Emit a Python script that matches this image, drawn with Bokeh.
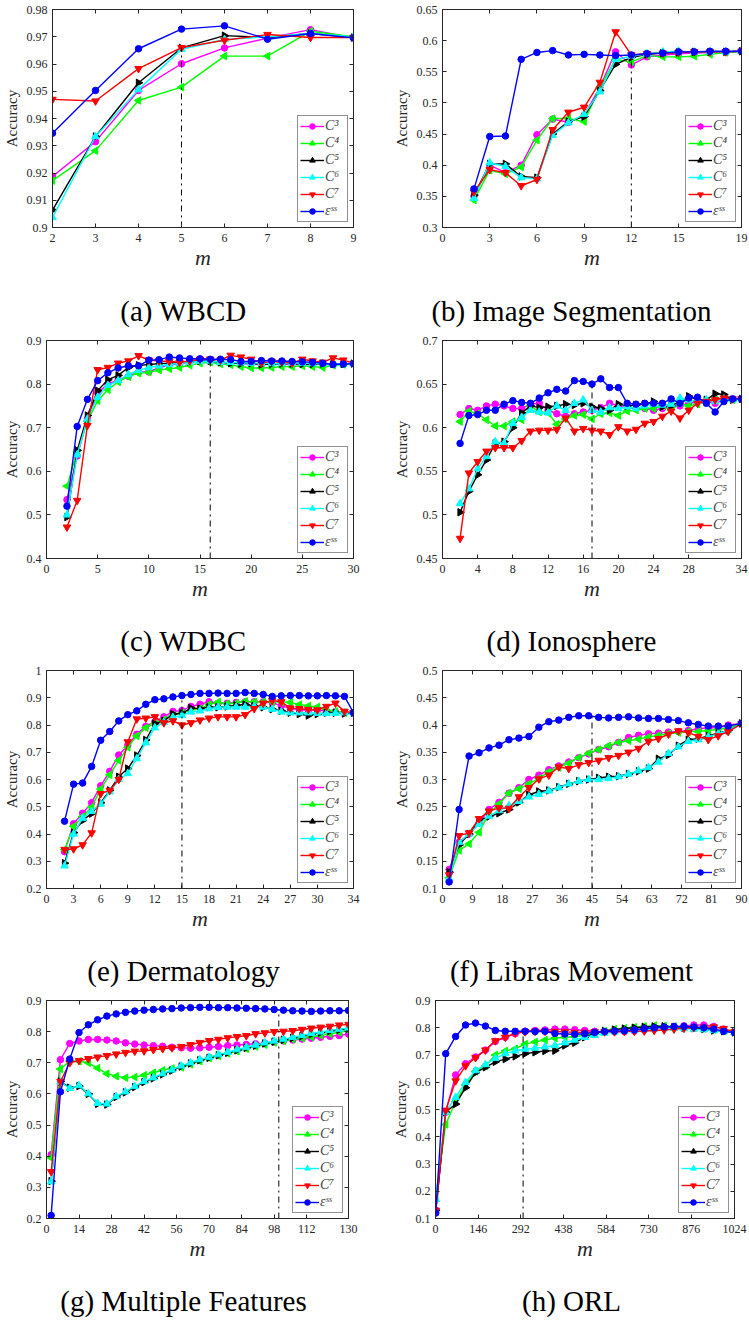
import math
from bokeh.plotting import figure
from bokeh.layouts import column, row
from bokeh.models import Range1d, FixedTicker, NumeralTickFormatter, LinearAxis
from bokeh.core.properties import value
from bokeh.embed import file_html
from bokeh.resources import INLINE

# ---------------- data ----------------
series_names = ["C³", "C⁴", "C⁵", "C⁶", "C⁷", "εˢˢ"]
series_colors = ["#ff00ff", "#00ff00", "#000000", "#00ffff", "#ff0000", "#0000ff"]

# (a) WBCD
a_m = [2, 3, 4, 5, 6, 7, 8, 9]
a_c3 = [0.9187, 0.9315, 0.9503, 0.9601, 0.9659, 0.9695, 0.9726, 0.9696]
a_c4 = [0.9172, 0.9282, 0.9466, 0.9515, 0.9629, 0.9629, 0.9720, 0.9700]
a_c5 = [0.9064, 0.9334, 0.9531, 0.9659, 0.9704, 0.9697, 0.9712, 0.9697]
a_c6 = [0.9037, 0.9334, 0.9506, 0.9654, 0.9690, 0.9700, 0.9712, 0.9700]
a_c7 = [0.9470, 0.9464, 0.9583, 0.9660, 0.9687, 0.9708, 0.9697, 0.9697]
a_ss = [0.9346, 0.9503, 0.9656, 0.9728, 0.9740, 0.9691, 0.9712, 0.9696]
a_xticks = [2, 3, 4, 5, 6, 7, 8, 9]
a_yticks = [0.9, 0.91, 0.92, 0.93, 0.94, 0.95, 0.96, 0.97, 0.98]
a_vline = [5, 0.966]

# (b) Image Segmentation
b_m = list(range(2, 20))
b_c3 = [0.350, 0.400, 0.388, 0.400, 0.449, 0.474, 0.469, 0.480, 0.525, 0.582, 0.561, 0.574, 0.577, 0.579, 0.580, 0.581, 0.582, 0.583]
b_c4 = [0.344, 0.392, 0.386, 0.397, 0.440, 0.475, 0.475, 0.470, 0.525, 0.570, 0.566, 0.576, 0.574, 0.574, 0.575, 0.578, 0.581, 0.583]
b_c5 = [0.352, 0.402, 0.402, 0.382, 0.380, 0.450, 0.470, 0.478, 0.520, 0.562, 0.573, 0.578, 0.580, 0.581, 0.582, 0.582, 0.582, 0.583]
b_c6 = [0.347, 0.404, 0.398, 0.380, 0.378, 0.448, 0.468, 0.482, 0.518, 0.570, 0.575, 0.579, 0.582, 0.583, 0.582, 0.582, 0.582, 0.583]
b_c7 = [0.357, 0.393, 0.388, 0.367, 0.377, 0.457, 0.485, 0.493, 0.533, 0.614, 0.577, 0.579, 0.580, 0.581, 0.582, 0.582, 0.582, 0.583]
b_ss = [0.362, 0.446, 0.447, 0.570, 0.581, 0.584, 0.577, 0.578, 0.577, 0.576, 0.577, 0.579, 0.580, 0.582, 0.582, 0.583, 0.583, 0.583]
b_xticks = [0, 3, 6, 9, 12, 15, 19]
b_yticks = [0.3, 0.35, 0.4, 0.45, 0.5, 0.55, 0.6, 0.65]
b_vline = [12, 0.577]

# (c) WDBC
c_m = list(range(2, 31))
c_c3 = [0.535, 0.635, 0.720, 0.780, 0.800, 0.810, 0.818, 0.828, 0.828, 0.838, 0.843, 0.847, 0.850, 0.853, 0.853, 0.850, 0.848, 0.847, 0.846, 0.845, 0.846, 0.846, 0.845, 0.845, 0.846, 0.846, 0.846, 0.846, 0.847]
c_c4 = [0.566, 0.645, 0.715, 0.762, 0.787, 0.805, 0.817, 0.825, 0.827, 0.832, 0.835, 0.838, 0.843, 0.848, 0.850, 0.846, 0.844, 0.840, 0.837, 0.837, 0.838, 0.840, 0.840, 0.842, 0.840, 0.838, 0.843, 0.845, 0.847]
c_c5 = [0.495, 0.648, 0.728, 0.785, 0.810, 0.820, 0.838, 0.843, 0.845, 0.847, 0.848, 0.850, 0.852, 0.853, 0.853, 0.850, 0.848, 0.847, 0.848, 0.845, 0.846, 0.847, 0.847, 0.846, 0.846, 0.847, 0.846, 0.846, 0.847]
c_c6 = [0.500, 0.638, 0.720, 0.770, 0.797, 0.808, 0.822, 0.832, 0.838, 0.842, 0.845, 0.848, 0.850, 0.852, 0.853, 0.850, 0.850, 0.849, 0.848, 0.848, 0.847, 0.847, 0.848, 0.848, 0.847, 0.847, 0.846, 0.846, 0.847]
c_c7 = [0.472, 0.533, 0.705, 0.833, 0.838, 0.848, 0.853, 0.865, 0.855, 0.853, 0.852, 0.850, 0.853, 0.857, 0.857, 0.855, 0.866, 0.862, 0.857, 0.848, 0.852, 0.850, 0.848, 0.857, 0.853, 0.850, 0.860, 0.855, 0.848]
c_ss = [0.520, 0.703, 0.765, 0.808, 0.826, 0.837, 0.842, 0.842, 0.855, 0.856, 0.862, 0.860, 0.858, 0.858, 0.857, 0.857, 0.856, 0.852, 0.852, 0.854, 0.853, 0.853, 0.852, 0.851, 0.850, 0.848, 0.845, 0.846, 0.847]
c_xticks = [0, 5, 10, 15, 20, 25, 30]
c_yticks = [0.4, 0.5, 0.6, 0.7, 0.8, 0.9]
c_vline = [16, 0.857]

# (d) Ionosphere
d_m = list(range(2, 35))
d_c3 = [0.615, 0.622, 0.620, 0.625, 0.627, 0.625, 0.622, 0.622, 0.627, 0.628, 0.620, 0.616, 0.613, 0.616, 0.618, 0.620, 0.623, 0.628, 0.625, 0.623, 0.622, 0.622, 0.620, 0.622, 0.625, 0.625, 0.628, 0.630, 0.630, 0.628, 0.632, 0.633, 0.633]
d_c4 = [0.607, 0.619, 0.616, 0.609, 0.602, 0.602, 0.607, 0.609, 0.625, 0.618, 0.617, 0.604, 0.610, 0.614, 0.615, 0.610, 0.616, 0.617, 0.614, 0.619, 0.620, 0.622, 0.622, 0.625, 0.620, 0.628, 0.625, 0.627, 0.630, 0.632, 0.633, 0.632, 0.633]
d_c5 = [0.503, 0.527, 0.546, 0.563, 0.582, 0.584, 0.600, 0.617, 0.625, 0.623, 0.624, 0.625, 0.627, 0.626, 0.628, 0.624, 0.622, 0.620, 0.627, 0.625, 0.626, 0.627, 0.630, 0.624, 0.625, 0.630, 0.636, 0.632, 0.632, 0.639, 0.638, 0.632, 0.633]
d_c6 = [0.513, 0.530, 0.553, 0.567, 0.584, 0.582, 0.605, 0.612, 0.620, 0.618, 0.617, 0.625, 0.620, 0.628, 0.632, 0.620, 0.618, 0.623, 0.622, 0.624, 0.622, 0.625, 0.627, 0.626, 0.627, 0.634, 0.632, 0.630, 0.632, 0.630, 0.633, 0.632, 0.633]
d_c7 = [0.473, 0.548, 0.561, 0.573, 0.577, 0.577, 0.577, 0.585, 0.596, 0.597, 0.597, 0.598, 0.611, 0.596, 0.599, 0.597, 0.596, 0.592, 0.601, 0.596, 0.598, 0.605, 0.607, 0.613, 0.619, 0.611, 0.620, 0.628, 0.630, 0.632, 0.634, 0.633, 0.633]
d_ss = [0.582, 0.614, 0.615, 0.620, 0.620, 0.627, 0.631, 0.629, 0.628, 0.634, 0.640, 0.644, 0.642, 0.654, 0.653, 0.650, 0.656, 0.646, 0.646, 0.628, 0.627, 0.628, 0.628, 0.628, 0.633, 0.628, 0.634, 0.635, 0.628, 0.618, 0.630, 0.633, 0.633]
d_xticks = [0, 4, 8, 12, 16, 20, 24, 28, 34]
d_yticks = [0.45, 0.5, 0.55, 0.6, 0.65, 0.7]
d_vline = [17, 0.650]

# (e) Dermatology
e_m = list(range(2, 35))
e_c3 = [0.335, 0.438, 0.476, 0.515, 0.577, 0.630, 0.690, 0.725, 0.766, 0.795, 0.812, 0.830, 0.850, 0.853, 0.868, 0.876, 0.885, 0.880, 0.880, 0.883, 0.885, 0.885, 0.885, 0.882, 0.870, 0.862, 0.855, 0.855, 0.855, 0.852, 0.848, 0.845, 0.845]
e_c4 = [0.343, 0.428, 0.464, 0.498, 0.565, 0.617, 0.670, 0.718, 0.760, 0.790, 0.805, 0.820, 0.835, 0.845, 0.853, 0.860, 0.875, 0.884, 0.878, 0.880, 0.887, 0.885, 0.885, 0.885, 0.885, 0.883, 0.875, 0.870, 0.866, 0.858, 0.850, 0.845, 0.845]
e_c5 = [0.293, 0.405, 0.450, 0.475, 0.515, 0.560, 0.610, 0.640, 0.688, 0.745, 0.805, 0.815, 0.840, 0.843, 0.862, 0.860, 0.865, 0.865, 0.868, 0.872, 0.875, 0.870, 0.865, 0.858, 0.852, 0.845, 0.840, 0.835, 0.840, 0.845, 0.845, 0.842, 0.845]
e_c6 = [0.283, 0.400, 0.458, 0.483, 0.510, 0.555, 0.600, 0.622, 0.677, 0.735, 0.790, 0.810, 0.828, 0.835, 0.848, 0.852, 0.860, 0.865, 0.866, 0.866, 0.866, 0.868, 0.866, 0.858, 0.848, 0.845, 0.845, 0.845, 0.843, 0.842, 0.843, 0.845, 0.845]
e_c7 = [0.343, 0.345, 0.360, 0.404, 0.548, 0.560, 0.600, 0.738, 0.822, 0.825, 0.830, 0.808, 0.815, 0.800, 0.808, 0.818, 0.825, 0.830, 0.830, 0.830, 0.838, 0.860, 0.880, 0.890, 0.885, 0.862, 0.860, 0.857, 0.855, 0.868, 0.880, 0.850, 0.845]
e_ss = [0.447, 0.583, 0.587, 0.648, 0.744, 0.776, 0.815, 0.838, 0.852, 0.876, 0.893, 0.896, 0.903, 0.908, 0.912, 0.916, 0.916, 0.917, 0.916, 0.916, 0.919, 0.916, 0.912, 0.905, 0.907, 0.908, 0.908, 0.907, 0.907, 0.908, 0.907, 0.905, 0.845]
e_xticks = [0, 3, 6, 9, 12, 15, 18, 21, 24, 27, 30, 34]
e_yticks = [0.2, 0.3, 0.4, 0.5, 0.6, 0.7, 0.8, 0.9, 1.0]
e_vline = [15, 0.908]

# (f) Libras Movement
f_m = [2, 5, 8, 11, 14, 17, 20, 23, 26, 29, 32, 35, 38, 41, 44, 47, 50, 53, 56, 59, 62, 65, 68, 71, 74, 77, 80, 83, 86, 90]
f_c3 = [0.135, 0.185, 0.200, 0.220, 0.245, 0.258, 0.275, 0.285, 0.300, 0.308, 0.318, 0.325, 0.332, 0.340, 0.347, 0.355, 0.360, 0.368, 0.377, 0.381, 0.384, 0.385, 0.387, 0.388, 0.390, 0.393, 0.395, 0.395, 0.400, 0.403]
f_c4 = [0.120, 0.170, 0.182, 0.203, 0.238, 0.255, 0.275, 0.283, 0.292, 0.302, 0.314, 0.322, 0.330, 0.340, 0.348, 0.355, 0.362, 0.368, 0.371, 0.374, 0.378, 0.381, 0.384, 0.386, 0.388, 0.388, 0.390, 0.392, 0.395, 0.403]
f_c5 = [0.130, 0.180, 0.200, 0.225, 0.232, 0.238, 0.245, 0.258, 0.272, 0.278, 0.280, 0.286, 0.292, 0.297, 0.300, 0.303, 0.305, 0.306, 0.310, 0.315, 0.320, 0.338, 0.345, 0.362, 0.373, 0.375, 0.380, 0.385, 0.390, 0.403]
f_c6 = [0.118, 0.185, 0.200, 0.218, 0.233, 0.243, 0.252, 0.260, 0.268, 0.273, 0.279, 0.285, 0.292, 0.297, 0.300, 0.300, 0.302, 0.305, 0.310, 0.316, 0.322, 0.332, 0.348, 0.360, 0.370, 0.373, 0.378, 0.384, 0.390, 0.403]
f_c7 = [0.125, 0.197, 0.202, 0.228, 0.242, 0.248, 0.247, 0.268, 0.285, 0.301, 0.308, 0.323, 0.320, 0.327, 0.331, 0.335, 0.340, 0.344, 0.350, 0.357, 0.370, 0.375, 0.383, 0.389, 0.386, 0.379, 0.373, 0.380, 0.388, 0.402]
f_ss = [0.112, 0.245, 0.343, 0.349, 0.358, 0.363, 0.373, 0.376, 0.379, 0.396, 0.406, 0.409, 0.414, 0.417, 0.417, 0.414, 0.413, 0.414, 0.415, 0.413, 0.412, 0.412, 0.410, 0.408, 0.404, 0.401, 0.398, 0.398, 0.398, 0.403]
f_xticks = [0, 9, 18, 27, 36, 45, 54, 63, 72, 81, 90]
f_yticks = [0.1, 0.15, 0.2, 0.25, 0.3, 0.35, 0.4, 0.45, 0.5]
f_vline = [45, 0.416]

# (g) Multiple Features
g_m = [2, 6, 10, 14, 18, 22, 26, 30, 34, 38, 42, 46, 50, 54, 58, 62, 66, 70, 74, 78, 82, 86, 90, 94, 98, 102, 106, 110, 114, 118, 122, 126, 130]
g_c3 = [0.405, 0.710, 0.762, 0.770, 0.775, 0.775, 0.773, 0.770, 0.764, 0.760, 0.757, 0.755, 0.753, 0.750, 0.748, 0.747, 0.748, 0.750, 0.752, 0.755, 0.757, 0.759, 0.761, 0.763, 0.766, 0.770, 0.773, 0.776, 0.779, 0.782, 0.785, 0.788, 0.792]
g_c4 = [0.395, 0.680, 0.705, 0.705, 0.700, 0.683, 0.665, 0.657, 0.652, 0.654, 0.660, 0.668, 0.676, 0.682, 0.685, 0.695, 0.705, 0.715, 0.722, 0.730, 0.737, 0.745, 0.752, 0.758, 0.765, 0.770, 0.775, 0.779, 0.783, 0.788, 0.793, 0.798, 0.803]
g_c5 = [0.320, 0.640, 0.620, 0.625, 0.600, 0.568, 0.566, 0.590, 0.605, 0.622, 0.638, 0.650, 0.663, 0.675, 0.688, 0.698, 0.708, 0.716, 0.724, 0.732, 0.740, 0.748, 0.755, 0.762, 0.768, 0.774, 0.780, 0.786, 0.792, 0.797, 0.802, 0.806, 0.810]
g_c6 = [0.318, 0.638, 0.618, 0.627, 0.601, 0.570, 0.568, 0.592, 0.607, 0.624, 0.640, 0.652, 0.665, 0.677, 0.690, 0.700, 0.710, 0.718, 0.726, 0.734, 0.742, 0.750, 0.757, 0.764, 0.770, 0.776, 0.782, 0.788, 0.794, 0.799, 0.804, 0.808, 0.812]
g_c7 = [0.350, 0.640, 0.700, 0.707, 0.713, 0.718, 0.723, 0.728, 0.733, 0.737, 0.738, 0.742, 0.745, 0.748, 0.752, 0.758, 0.765, 0.771, 0.775, 0.780, 0.784, 0.787, 0.793, 0.796, 0.800, 0.801, 0.803, 0.807, 0.811, 0.814, 0.817, 0.821, 0.823]
g_ss = [0.210, 0.607, 0.712, 0.797, 0.822, 0.838, 0.850, 0.857, 0.862, 0.866, 0.869, 0.871, 0.873, 0.874, 0.876, 0.877, 0.878, 0.878, 0.877, 0.877, 0.876, 0.875, 0.874, 0.873, 0.871, 0.869, 0.867, 0.866, 0.865, 0.866, 0.867, 0.867, 0.868]
g_xticks = [0, 14, 28, 42, 56, 70, 84, 98, 112, 130]
g_yticks = [0.2, 0.3, 0.4, 0.5, 0.6, 0.7, 0.8, 0.9]
g_vline = [100, 0.870]

# (h) ORL
h_m = [1, 35, 69, 103, 137, 171, 205, 239, 273, 307, 341, 375, 409, 443, 477, 511, 545, 579, 613, 647, 681, 715, 749, 783, 817, 851, 885, 919, 953, 987, 1024]
h_c3 = [0.130, 0.490, 0.627, 0.668, 0.693, 0.718, 0.750, 0.765, 0.778, 0.787, 0.790, 0.792, 0.795, 0.795, 0.793, 0.790, 0.787, 0.785, 0.785, 0.786, 0.788, 0.792, 0.797, 0.800, 0.803, 0.807, 0.810, 0.810, 0.805, 0.795, 0.783]
h_c4 = [0.180, 0.445, 0.530, 0.590, 0.640, 0.660, 0.700, 0.715, 0.723, 0.740, 0.748, 0.755, 0.762, 0.765, 0.767, 0.773, 0.780, 0.788, 0.795, 0.798, 0.802, 0.805, 0.808, 0.807, 0.805, 0.803, 0.800, 0.797, 0.793, 0.788, 0.783]
h_c5 = [0.130, 0.490, 0.520, 0.580, 0.635, 0.655, 0.675, 0.685, 0.695, 0.705, 0.710, 0.715, 0.716, 0.735, 0.745, 0.765, 0.780, 0.788, 0.793, 0.797, 0.800, 0.803, 0.805, 0.805, 0.803, 0.800, 0.798, 0.795, 0.790, 0.787, 0.783]
h_c6 = [0.170, 0.490, 0.545, 0.600, 0.643, 0.665, 0.688, 0.705, 0.715, 0.722, 0.725, 0.730, 0.735, 0.745, 0.755, 0.765, 0.772, 0.780, 0.785, 0.788, 0.790, 0.793, 0.795, 0.797, 0.798, 0.797, 0.795, 0.793, 0.790, 0.787, 0.783]
h_c7 = [0.130, 0.497, 0.605, 0.660, 0.690, 0.718, 0.752, 0.765, 0.780, 0.785, 0.787, 0.787, 0.786, 0.785, 0.783, 0.783, 0.785, 0.785, 0.785, 0.786, 0.787, 0.788, 0.790, 0.792, 0.795, 0.798, 0.800, 0.802, 0.803, 0.797, 0.785]
h_ss = [0.120, 0.705, 0.768, 0.810, 0.817, 0.806, 0.790, 0.787, 0.787, 0.787, 0.786, 0.787, 0.779, 0.777, 0.776, 0.778, 0.783, 0.786, 0.788, 0.789, 0.792, 0.797, 0.800, 0.803, 0.805, 0.805, 0.803, 0.800, 0.795, 0.787, 0.782]
h_xticks = [0, 146, 292, 438, 584, 730, 876, 1024]
h_yticks = [0.1, 0.2, 0.3, 0.4, 0.5, 0.6, 0.7, 0.8, 0.9]
h_vline = [300, 0.787]

# ---------------- styling ----------------
SERIF = "Liberation Serif"
INK = "#262626"
FRAME_H = 218
BORDER_TOP = 9
BORDER_BOTTOM = 48
MAIN_H = BORDER_TOP + FRAME_H + BORDER_BOTTOM
MARKERS = [("circle", 0.0, 6.5), ("triangle", math.pi / 2, 7.5), ("triangle", -math.pi / 2, 7.5),
           ("triangle", 0.0, 7.5), ("inverted_triangle", 0.0, 7.5), ("circle", 0.0, 6.5)]


def make_panel(m, ys, xr, yr, xticks, yticks, vline, width, bl, br):
    for y in ys:
        assert len(y) == len(m)
    p = figure(width=width, height=MAIN_H, title=None,
               x_range=Range1d(xr[0], xr[1]), y_range=Range1d(yr[0], yr[1]),
               output_backend="svg", toolbar_location=None,
               min_border_left=bl, min_border_right=br,
               min_border_top=BORDER_TOP, min_border_bottom=BORDER_BOTTOM,
               background_fill_color="white", border_fill_color="white")
    p.grid.visible = False
    p.outline_line_color = INK
    p.outline_line_width = 1

    xa, ya = p.xaxis[0], p.yaxis[0]
    xa.ticker = FixedTicker(ticks=xticks)
    ya.ticker = FixedTicker(ticks=yticks)
    ya.formatter = NumeralTickFormatter(format="0.[00]")
    for ax in (xa, ya):
        ax.major_tick_in = 4
        ax.major_tick_out = 0
        ax.minor_tick_in = 0
        ax.minor_tick_out = 0
        ax.axis_line_color = INK
        ax.major_tick_line_color = INK
        ax.major_label_text_font = SERIF
        ax.major_label_text_font_size = "12px"
        ax.major_label_text_color = INK
        ax.axis_label_text_font = SERIF
        ax.axis_label_text_color = INK
    xa.axis_label = "m"
    xa.axis_label_text_font_style = "italic"
    xa.axis_label_text_font_size = "22px"
    xa.axis_label_standoff = 0
    xa.major_label_standoff = 6
    ya.axis_label = "Accuracy"
    ya.axis_label_text_font_style = "normal"
    ya.axis_label_text_font_size = "15px"
    ya.axis_label_standoff = 4
    ya.major_label_standoff = 5

    for side, ticks in (("above", xticks), ("right", yticks)):
        ax = LinearAxis(ticker=FixedTicker(ticks=ticks),
                        major_label_text_font_size="0px",
                        major_label_text_color=None,
                        major_label_standoff=0,
                        major_tick_in=4, major_tick_out=0,
                        minor_tick_in=0, minor_tick_out=0,
                        axis_line_color=INK, major_tick_line_color=INK)
        p.add_layout(ax, side)

    for y, name, color, (mk, ang, sz) in zip(ys, series_names, series_colors, MARKERS):
        p.line(m, y, color=color, line_width=1.4, legend_label=name)
        p.scatter(m, y, marker=mk, angle=ang, size=sz, color=color, legend_label=name)

    p.segment(x0=[vline[0]], y0=[yr[0]], x1=[vline[0]], y1=[vline[1]],
              line_color="black", line_width=1, line_dash="dashdot")

    leg = p.legend[0]
    leg.location = "bottom_right"
    leg.margin = 5
    leg.padding = 2
    leg.spacing = 1
    leg.label_text_font = SERIF
    leg.label_text_font_style = "italic"
    leg.label_text_font_size = "14px"
    leg.label_text_line_height = 1.0
    leg.label_height = 14
    leg.glyph_height = 14
    leg.glyph_width = 24
    leg.label_standoff = 1
    leg.border_line_color = INK
    leg.border_line_width = 1
    leg.background_fill_alpha = 1
    return p


def make_caption(text, width, height, centre_x, baseline_from_top):
    c = figure(width=width, height=height, title=None,
               x_range=Range1d(0, width), y_range=Range1d(0, height),
               output_backend="svg", toolbar_location=None,
               x_axis_location=None, y_axis_location=None,
               min_border=0, min_border_left=0, min_border_right=0,
               min_border_top=0, min_border_bottom=0,
               outline_line_color=None, background_fill_color="white", border_fill_color="white")
    c.grid.visible = False
    c.text(x=[centre_x], y=[height - baseline_from_top], text=[text],
           text_align="center", text_baseline="alphabetic",
           text_font=value(SERIF), text_font_size="29px", text_color="black")
    return c


LEFT_W, RIGHT_W = 375, 374
LEFT_CX, RIGHT_CX = 183, 571 - LEFT_W  # caption centres within each column

pa = make_panel(a_m, [a_c3, a_c4, a_c5, a_c6, a_c7, a_ss], (2, 9), (0.9, 0.98), a_xticks, a_yticks, a_vline, LEFT_W, 52, 22)
pb = make_panel(b_m, [b_c3, b_c4, b_c5, b_c6, b_c7, b_ss], (0, 19), (0.3, 0.65), b_xticks, b_yticks, b_vline, RIGHT_W, 67, 8)
pc = make_panel(c_m, [c_c3, c_c4, c_c5, c_c6, c_c7, c_ss], (0, 30), (0.4, 0.9), c_xticks, c_yticks, c_vline, LEFT_W, 46, 22)
pd = make_panel(d_m, [d_c3, d_c4, d_c5, d_c6, d_c7, d_ss], (0, 34), (0.45, 0.7), d_xticks, d_yticks, d_vline, RIGHT_W, 67, 8)
pe = make_panel(e_m, [e_c3, e_c4, e_c5, e_c6, e_c7, e_ss], (0, 34), (0.2, 1.0), e_xticks, e_yticks, e_vline, LEFT_W, 46, 22)
pf = make_panel(f_m, [f_c3, f_c4, f_c5, f_c6, f_c7, f_ss], (0, 90), (0.1, 0.5), f_xticks, f_yticks, f_vline, RIGHT_W, 67, 8)
pg = make_panel(g_m, [g_c3, g_c4, g_c5, g_c6, g_c7, g_ss], (0, 130), (0.2, 0.9), g_xticks, g_yticks, g_vline, LEFT_W, 46, 27)
ph = make_panel(h_m, [h_c3, h_c4, h_c5, h_c6, h_c7, h_ss], (0, 1024), (0.1, 0.9), h_xticks, h_yticks, h_vline, RIGHT_W, 60, 15)

# caption strips: (height, baseline distance from strip top)
cap_rows = [(56, 35), (55, 34), (55, 34), (55, 34)]
captions = [("(a) WBCD", "(b) Image Segmentation"),
            ("(c) WDBC", "(d) Ionosphere"),
            ("(e) Dermatology", "(f) Libras Movement"),
            ("(g) Multiple Features", "(h) ORL")]
panels = [(pa, pb), (pc, pd), (pe, pf), (pg, ph)]

items = []
for (pl, pr), (tl, tr), (ch, cb) in zip(panels, captions, cap_rows):
    items.append(row(pl, pr))
    items.append(row(make_caption(tl, LEFT_W, ch, LEFT_CX, cb),
                     make_caption(tr, RIGHT_W, ch, RIGHT_CX, cb)))

layout = column(*items)

with open("out.html", "w", encoding="utf-8") as fh:
    fh.write(file_html(layout, INLINE, title="Accuracy vs m"))
